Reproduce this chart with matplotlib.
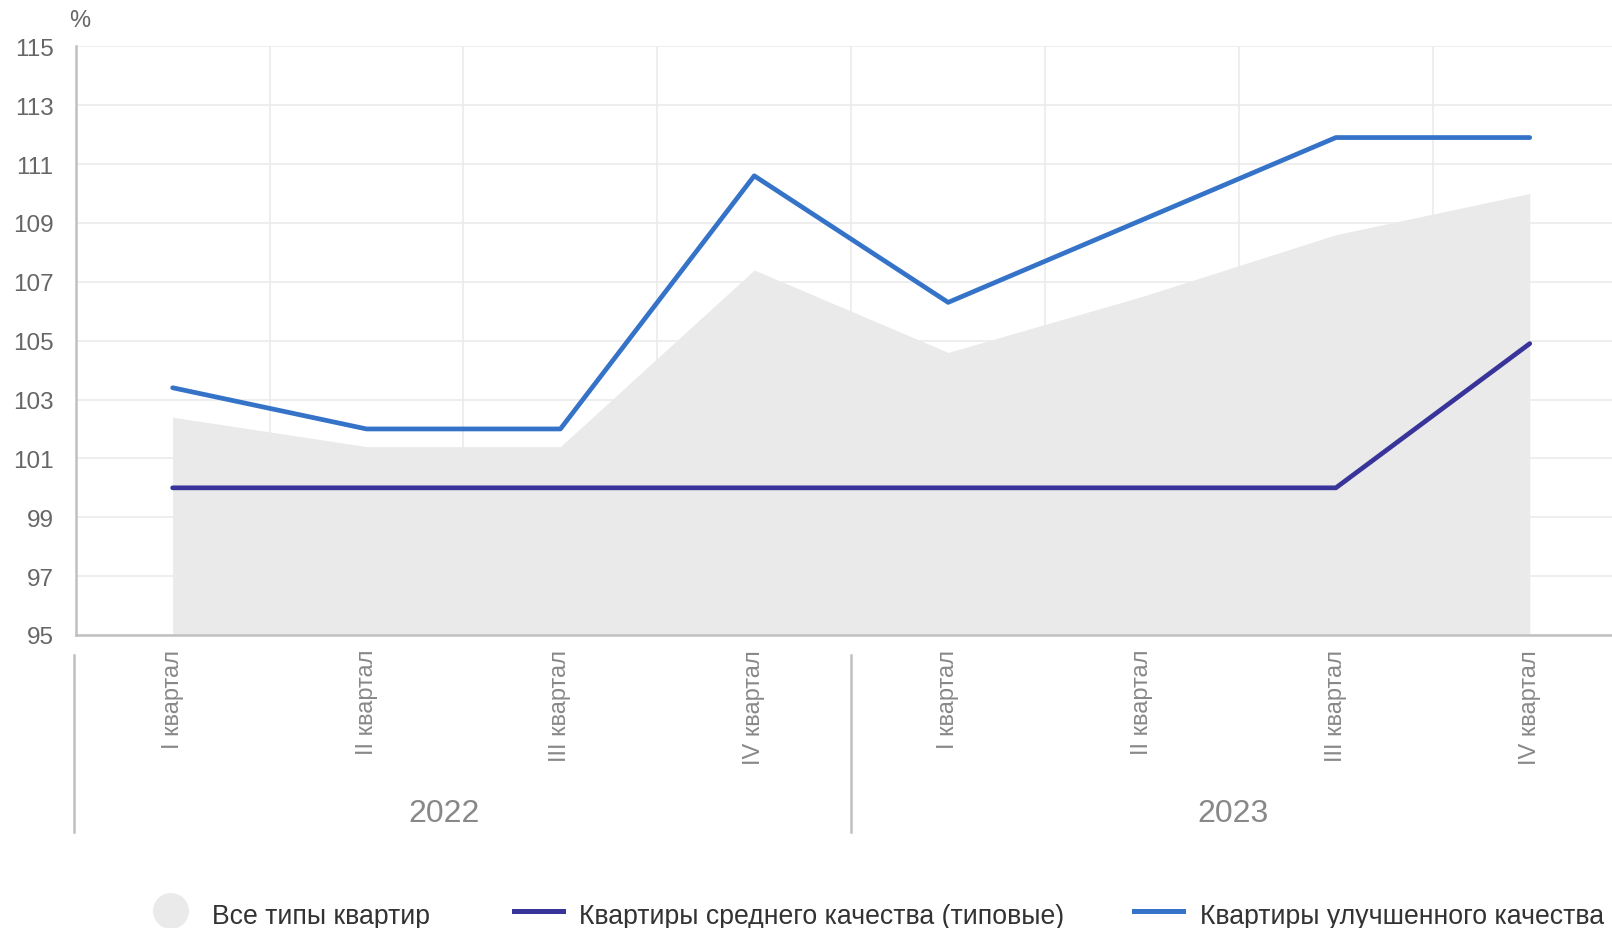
import matplotlib
matplotlib.use("Agg")
import matplotlib.pyplot as plt
import matplotlib.transforms as mtransforms
from matplotlib.lines import Line2D
from matplotlib.patches import Ellipse

# ── Data ─────────────────────────────────────────────────────────────────────
quarters = ["I квартал", "II квартал", "III квартал", "IV квартал",
            "I квартал", "II квартал", "III квартал", "IV квартал"]
years = ["2022", "2023"]
all_types = [102.4, 101.4, 101.4, 107.4, 104.6, 106.5, 108.6, 110.0]
typical   = [100.0, 100.0, 100.0, 100.0, 100.0, 100.0, 100.0, 104.9]
improved  = [103.4, 102.0, 102.0, 110.6, 106.3, 109.1, 111.9, 111.9]
legend_labels = ["Все типы квартир",
                 "Квартиры среднего качества (типовые)",
                 "Квартиры улучшенного качества"]

# ── Styles ───────────────────────────────────────────────────────────────────
FILL_COLOR = "#EAEAEA"
DARK_COLOR = "#39349A"
BLUE_COLOR = "#3473C8"
GRID_COLOR = "#EBEBEB"
AXIS_COLOR = "#C0C0C0"
TICK_COLOR = "#666666"
LABEL_COLOR = "#888888"

plt.rcParams["font.family"] = ["Liberation Sans", "DejaVu Sans"]

W, H = 1612, 929
fig = plt.figure(figsize=(W / 100, H / 100), dpi=100)
ax = fig.add_axes([75.7 / W, 293 / H, 1551 / W, 588.7 / H])

x = list(range(len(quarters)))

ax.fill_between(x, 95, all_types, color=FILL_COLOR, linewidth=0, zorder=1)
ax.plot(x, typical, color=DARK_COLOR, lw=3.4, solid_capstyle="round",
        solid_joinstyle="round", zorder=3)
ax.plot(x, improved, color=BLUE_COLOR, lw=3.4, solid_capstyle="round",
        solid_joinstyle="round", zorder=3)

ax.set_xlim(-0.5, len(quarters) - 0.5)
ax.set_ylim(95, 115)
ax.set_yticks(range(95, 116, 2))
ax.set_xticks(x)
ax.set_xticklabels(quarters, rotation=90, fontsize=17, color=LABEL_COLOR)
ax.set_xticks([i + 0.5 for i in x[:-1]], minor=True)

ax.set_axisbelow(True)
ax.grid(True, axis="y", color=GRID_COLOR, lw=1.2)
ax.grid(True, axis="x", which="minor", color=GRID_COLOR, lw=1.2)
ax.tick_params(axis="x", which="both", length=0, pad=10)
ax.tick_params(axis="y", length=0, pad=16, labelsize=17.5, labelcolor=TICK_COLOR)

for s in ["top", "right"]:
    ax.spines[s].set_visible(False)
for s in ["left", "bottom"]:
    ax.spines[s].set_color(AXIS_COLOR)
    ax.spines[s].set_linewidth(1.8)

ax.text(80 / W, 1 - 21 / H, "%", transform=fig.transFigure, fontsize=17,
        color=TICK_COLOR, ha="center", va="center")

# year groups below the quarter labels
trans = mtransforms.blended_transform_factory(ax.transData, ax.transAxes)
for xs in [-0.51, 3.5]:
    ax.plot([xs, xs], [-0.034, -0.335], transform=trans, color=AXIS_COLOR,
            lw=1.8, clip_on=False)
for xc, yr in zip([1.4, 5.47], years):
    ax.text(xc, -0.316, yr, transform=trans, fontsize=23, color=LABEL_COLOR,
            ha="center", va="baseline")

# ── Legend (bottom) ──────────────────────────────────────────────────────────
fig.add_artist(Ellipse((171 / W, 17 / H), 36 / W, 36 / H,
                       transform=fig.transFigure, color=FILL_COLOR, lw=0))
fig.add_artist(Line2D([514 / W, 563 / W], [17 / H, 17 / H],
                      transform=fig.transFigure, color=DARK_COLOR, lw=3.6))
fig.add_artist(Line2D([1134 / W, 1183 / W], [17 / H, 17 / H],
                      transform=fig.transFigure, color=BLUE_COLOR, lw=3.6))
for xt, lab in zip([212, 579, 1200], legend_labels):
    fig.text(xt / W, 5 / H, lab, fontsize=19.2, color="#333333",
             ha="left", va="baseline")

fig.savefig("out.png", dpi=100)
